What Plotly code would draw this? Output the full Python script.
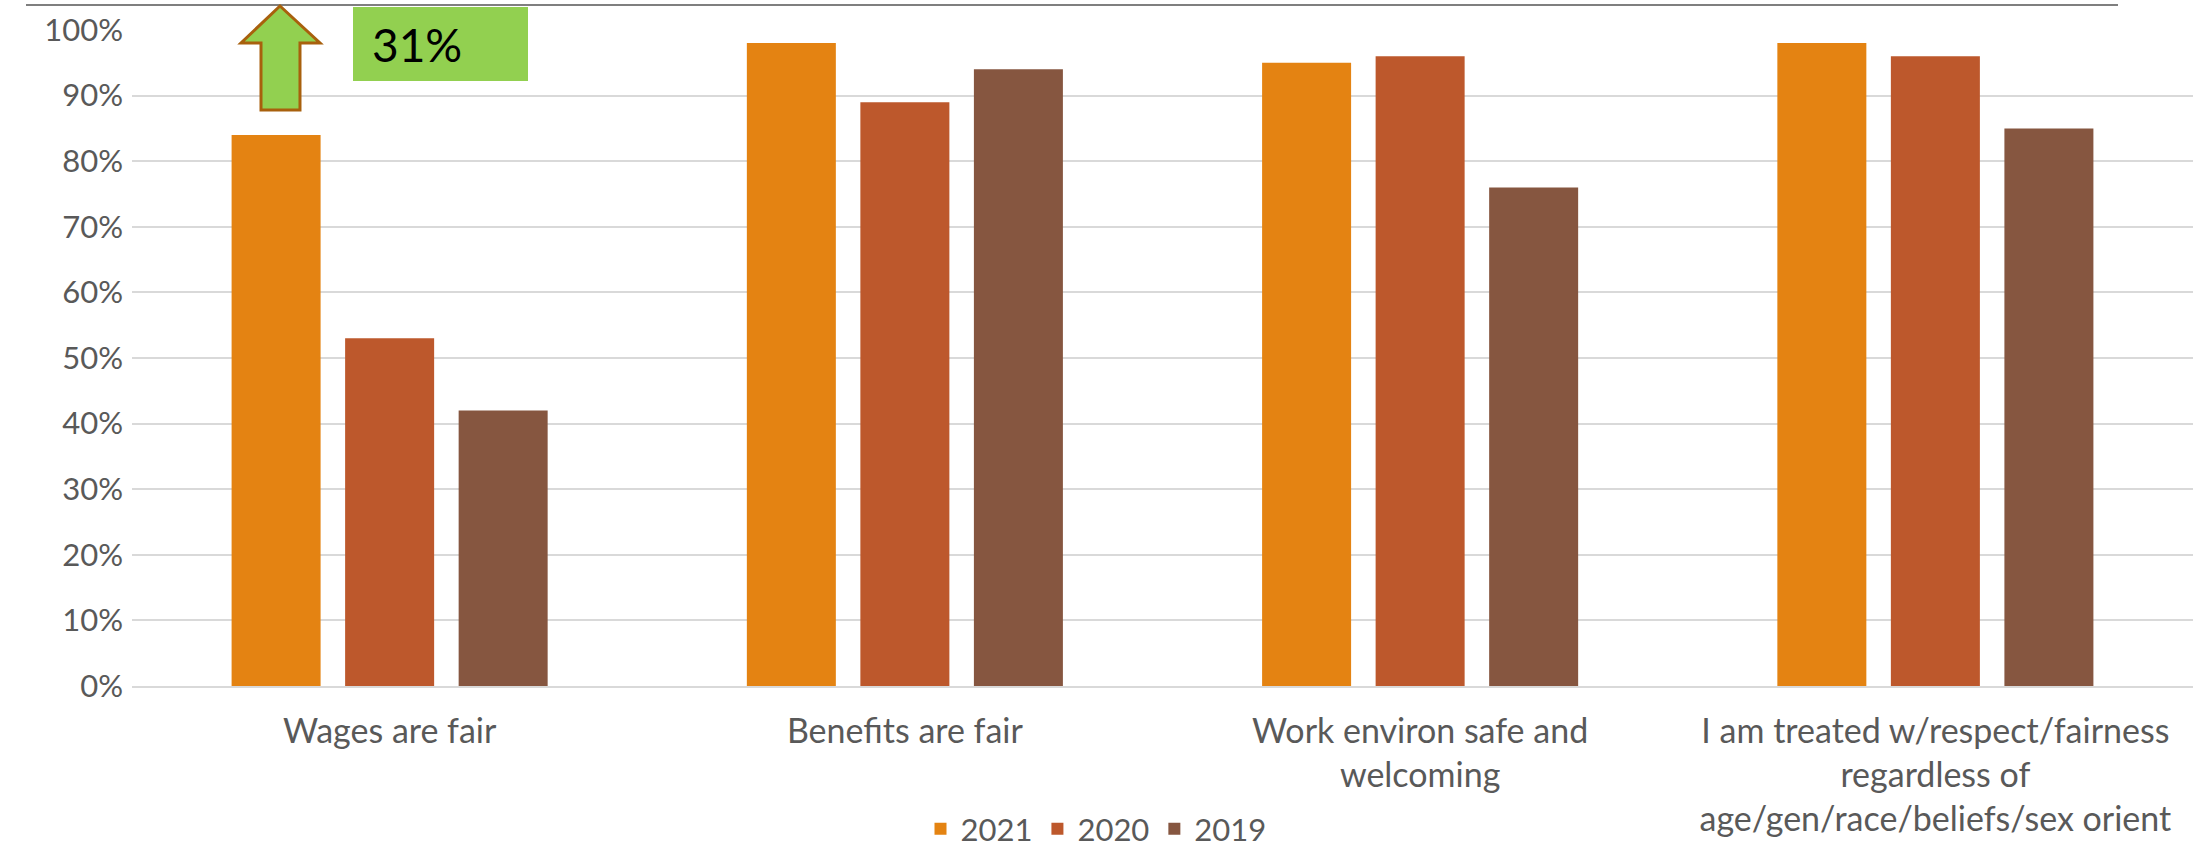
import plotly.graph_objects as go

categories = [
    "Wages are fair",
    "Benefits are fair",
    "Work environ safe and<br>welcoming",
    "I am treated w/respect/fairness<br>regardless of<br>age/gen/race/beliefs/sex orient",
]
years = ["2021", "2020", "2019"]
values_2021 = [0.84, 0.98, 0.95, 0.98]
values_2020 = [0.53, 0.89, 0.96, 0.96]
values_2019 = [0.42, 0.94, 0.76, 0.85]
colors = ["#E48312", "#BD582C", "#865640"]
y_ticks = [0, 0.1, 0.2, 0.3, 0.4, 0.5, 0.6, 0.7, 0.8, 0.9, 1.0]
callout_text = "31%"

W, H = 2207, 850
L, R, T, B = 132, 14, 30, 164
PW, PH = W - L - R, H - T - B

def px(x):
    return (x - L) / PW

def py(y):
    return (H - B - y) / PH

FONT = "Lato, Carlito, Calibri, sans-serif"
GREY = "#595959"
FS = 31

fig = go.Figure()
for name, vals, col in zip(years, [values_2021, values_2020, values_2019], colors):
    fig.add_trace(go.Bar(name=name, x=categories, y=vals, marker=dict(color=col, line=dict(width=0))))

fig.update_layout(
    width=W, height=H,
    margin=dict(l=L, r=R, t=T, b=B, autoexpand=False),
    paper_bgcolor="white", plot_bgcolor="white",
    barmode="group", bargap=0.339, bargroupgap=0.216,
    font=dict(family=FONT, size=FS, color=GREY),
    showlegend=True,
    legend=dict(orientation="h", x=px(1096), xanchor="center", y=py(829), yanchor="middle",
                font=dict(size=FS, color=GREY), traceorder="normal"),
)
fig.update_yaxes(range=[0, 1.0], tickvals=y_ticks, tickformat=".0%", showgrid=True,
                 gridcolor="#D9D9D9", gridwidth=2, zeroline=False, showline=False,
                 ticks="", ticklabelstandoff=8, automargin=False, tickfont=dict(size=FS, color=GREY))
fig.update_xaxes(showgrid=False, showline=True, linecolor="#D9D9D9", linewidth=2,
                 ticks="", automargin=False, tickfont=dict(size=34, color=GREY), ticklabelstandoff=14)

# top rule line
fig.add_shape(type="line", xref="paper", yref="paper", x0=px(26), x1=px(2118), y0=py(5), y1=py(5),
              line=dict(color="#7F7F7F", width=2))

# up arrow
pts = [(280, 6), (320, 43), (300, 43), (300, 110), (261, 110), (261, 43), (241, 43)]
path = "M " + " L ".join(f"{px(a):.5f},{py(b):.5f}" for a, b in pts) + " Z"
fig.add_shape(type="path", xref="paper", yref="paper", path=path,
              fillcolor="#92D050", line=dict(color="#A8600D", width=3))

# green callout box
fig.add_shape(type="rect", xref="paper", yref="paper", x0=px(353), x1=px(528), y0=py(81), y1=py(7),
              fillcolor="#92D050", line=dict(width=0))
fig.add_annotation(xref="paper", yref="paper", x=px(370), y=py(44), xanchor="left", yanchor="middle",
                   text=callout_text, showarrow=False, font=dict(family=FONT, size=46, color="black"))

fig.write_html("out.html")
